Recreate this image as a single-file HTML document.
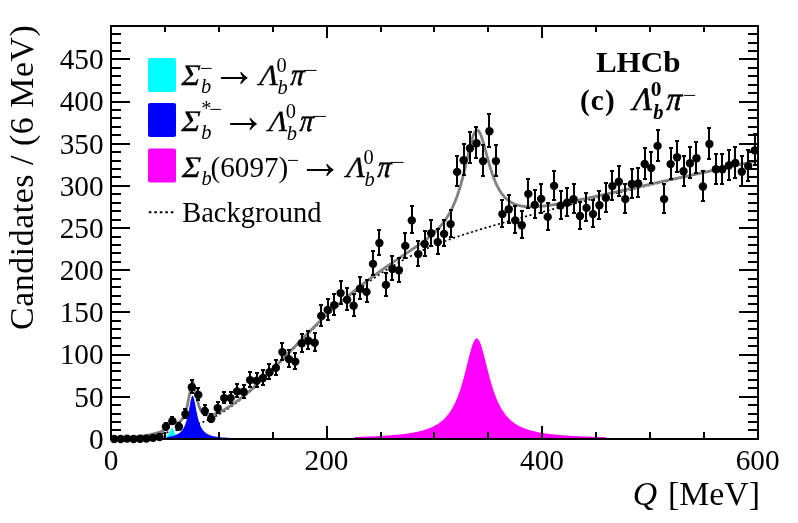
<!DOCTYPE html>
<html><head><meta charset="utf-8"><title>LHCb Q spectrum</title>
<style>
html,body{margin:0;padding:0;background:#fff;}
svg{display:block;font-family:"Liberation Serif",serif;fill:#000;}
.lab{font-size:29.3px;}
.ttl{font-size:35.0px;}
.it{font-style:italic;}
</style></head><body>
<svg width="798" height="523" viewBox="0 0 798 523">
<rect width="798" height="523" fill="#fff"/>
<!-- background fit component -->
<path d="M143.3,436.7 L143.8,436.6 L144.4,436.5 L144.9,436.5 L145.5,436.4 L146.0,436.3 L146.5,436.2 L147.1,436.2 L147.6,436.1 L148.2,436.0 L148.7,435.9 L149.2,435.8 L149.8,435.7 L150.3,435.7 L150.8,435.6 L151.4,435.5 L151.9,435.4 L152.5,435.3 L153.0,435.2 L153.5,435.1 L154.1,435.0 L154.6,434.9 L155.2,434.8 L155.7,434.7 L156.2,434.6 L156.8,434.5 L157.3,434.4 L157.9,434.3 L158.4,434.2 L158.9,434.1 L159.5,434.0 L160.0,433.9 L160.6,433.8 L161.1,433.7 L161.6,433.6 L162.2,433.5 L162.7,433.4 L163.2,433.3 L163.8,433.1 L164.3,433.0 L164.9,432.9 L165.4,432.8 L165.9,432.7 L166.5,432.6 L167.0,432.4 L167.6,432.3 L168.1,432.2 L168.6,432.1 L169.2,432.0 L169.7,431.8 L170.3,431.7 L170.8,431.6 L171.3,431.5 L171.9,431.3 L172.4,431.2 L173.0,431.1 L173.5,431.0 L174.0,430.8 L174.6,430.7 L175.1,430.6 L175.6,430.4 L176.2,430.3 L176.7,430.2 L177.3,430.0 L177.8,429.9 L178.3,429.8 L178.9,429.6 L179.4,429.5 L180.0,429.4 L180.5,429.2 L181.0,429.1 L181.6,428.9 L182.1,428.8 L182.7,428.7 L183.2,428.5 L183.7,428.4 L184.3,428.2 L184.8,428.1 L185.4,427.9 L185.9,427.8 L186.4,427.6 L187.0,427.5 L187.5,427.3 L188.0,427.1 L188.6,427.0 L189.1,426.8 L189.7,426.7 L190.2,426.5 L190.7,426.3 L191.3,426.2 L191.8,426.0 L192.4,425.8 L192.9,425.6 L193.4,425.5 L194.0,425.3 L194.5,425.1 L195.1,424.9 L195.6,424.8 L196.1,424.6 L196.7,424.4 L197.2,424.2 L197.8,424.0 L198.3,423.8 L198.8,423.6 L199.4,423.4 L199.9,423.2 L200.4,423.0 L201.0,422.8 L201.5,422.6 L202.1,422.4 L202.6,422.2 L203.1,422.0 L203.7,421.7 L204.2,421.5 L204.8,421.3 L205.3,421.1 L205.8,420.8 L206.4,420.6 L206.9,420.4 L207.5,420.1 L208.0,419.9 L208.5,419.7 L209.1,419.4 L209.6,419.2 L210.2,418.9 L210.7,418.7 L211.2,418.4 L211.8,418.2 L212.3,417.9 L212.8,417.6 L213.4,417.4 L213.9,417.1 L214.5,416.8 L215.0,416.5 L215.5,416.2 L216.1,416.0 L216.6,415.7 L217.2,415.4 L217.7,415.1 L218.2,414.8 L218.8,414.5 L219.3,414.2 L219.9,413.9 L220.4,413.6 L220.9,413.2 L221.5,412.9 L222.0,412.6 L222.6,412.3 L223.1,411.9 L223.6,411.6 L224.2,411.3 L224.7,410.9 L225.2,410.6 L225.8,410.2 L226.3,409.9 L226.9,409.5 L227.4,409.2 L227.9,408.8 L228.5,408.4 L229.0,408.1 L229.6,407.7 L230.1,407.3 L230.6,406.9 L231.2,406.6 L231.7,406.2 L232.3,405.8 L232.8,405.4 L233.3,405.0 L233.9,404.6 L234.4,404.2 L235.0,403.8 L235.5,403.4 L236.0,403.0 L236.6,402.6 L237.1,402.2 L237.7,401.7 L238.2,401.3 L238.7,400.9 L239.3,400.5 L239.8,400.0 L240.3,399.6 L240.9,399.2 L241.4,398.7 L242.0,398.3 L242.5,397.9 L243.0,397.4 L243.6,397.0 L244.1,396.5 L244.7,396.1 L245.2,395.6 L245.7,395.2 L246.3,394.7 L246.8,394.2 L247.4,393.8 L247.9,393.3 L248.4,392.9 L249.0,392.4 L249.5,391.9 L250.1,391.4 L250.6,391.0 L251.1,390.5 L251.7,390.0 L252.2,389.5 L252.7,389.0 L253.3,388.5 L253.8,388.1 L254.4,387.6 L254.9,387.1 L255.4,386.6 L256.0,386.1 L256.5,385.6 L257.1,385.1 L257.6,384.6 L258.1,384.1 L258.7,383.6 L259.2,383.1 L259.8,382.6 L260.3,382.1 L260.8,381.5 L261.4,381.0 L261.9,380.5 L262.5,380.0 L263.0,379.5 L263.5,379.0 L264.1,378.4 L264.6,377.9 L265.1,377.4 L265.7,376.9 L266.2,376.4 L266.8,375.8 L267.3,375.3 L267.8,374.8 L268.4,374.2 L268.9,373.7 L269.5,373.2 L270.0,372.6 L270.5,372.1 L271.1,371.6 L271.6,371.0 L272.2,370.5 L272.7,370.0 L273.2,369.4 L273.8,368.9 L274.3,368.3 L274.9,367.8 L275.4,367.3 L275.9,366.7 L276.5,366.2 L277.0,365.6 L277.5,365.1 L278.1,364.5 L278.6,364.0 L279.2,363.4 L279.7,362.9 L280.2,362.3 L280.8,361.8 L281.3,361.2 L281.9,360.7 L282.4,360.1 L282.9,359.6 L283.5,359.0 L284.0,358.5 L284.6,357.9 L285.1,357.4 L285.6,356.8 L286.2,356.3 L286.7,355.7 L287.3,355.2 L287.8,354.6 L288.3,354.1 L288.9,353.5 L289.4,352.9 L289.9,352.4 L290.5,351.8 L291.0,351.3 L291.6,350.7 L292.1,350.2 L292.6,349.6 L293.2,349.1 L293.7,348.5 L294.3,348.0 L294.8,347.4 L295.3,346.9 L295.9,346.3 L296.4,345.8 L297.0,345.2 L297.5,344.7 L298.0,344.1 L298.6,343.5 L299.1,343.0 L299.7,342.4 L300.2,341.9 L300.7,341.4 L301.3,340.8 L301.8,340.3 L302.3,339.7 L302.9,339.2 L303.4,338.6 L304.0,338.1 L304.5,337.5 L305.0,337.0 L305.6,336.4 L306.1,335.9 L306.7,335.4 L307.2,334.8 L307.7,334.3 L308.3,333.7 L308.8,333.2 L309.4,332.7 L309.9,332.1 L310.4,331.6 L311.0,331.1 L311.5,330.5 L312.1,330.0 L312.6,329.5 L313.1,328.9 L313.7,328.4 L314.2,327.9 L314.7,327.4 L315.3,326.8 L315.8,326.3 L316.4,325.8 L316.9,325.3 L317.4,324.8 L318.0,324.2 L318.5,323.7 L319.1,323.2 L319.6,322.7 L320.1,322.2 L320.7,321.7 L321.2,321.2 L321.8,320.7 L322.3,320.2 L322.8,319.7 L323.4,319.2 L323.9,318.7 L324.5,318.2 L325.0,317.7 L325.5,317.2 L326.1,316.7 L326.6,316.2 L327.1,315.7 L327.7,315.2 L328.2,314.7 L328.8,314.2 L329.3,313.7 L329.8,313.2 L330.4,312.7 L330.9,312.3 L331.5,311.8 L332.0,311.3 L332.5,310.8 L333.1,310.3 L333.6,309.9 L334.2,309.4 L334.7,308.9 L335.2,308.4 L335.8,308.0 L336.3,307.5 L336.9,307.0 L337.4,306.6 L337.9,306.1 L338.5,305.6 L339.0,305.2 L339.5,304.7 L340.1,304.2 L340.6,303.8 L341.2,303.3 L341.7,302.9 L342.2,302.4 L342.8,302.0 L343.3,301.5 L343.9,301.1 L344.4,300.6 L344.9,300.2 L345.5,299.7 L346.0,299.3 L346.6,298.8 L347.1,298.4 L347.6,297.9 L348.2,297.5 L348.7,297.1 L349.3,296.6 L349.8,296.2 L350.3,295.8 L350.9,295.3 L351.4,294.9 L352.0,294.5 L352.5,294.0 L353.0,293.6 L353.6,293.2 L354.1,292.8 L354.6,292.3 L355.2,291.9 L355.7,291.5 L356.3,291.1 L356.8,290.7 L357.3,290.2 L357.9,289.8 L358.4,289.4 L359.0,289.0 L359.5,288.6 L360.0,288.2 L360.6,287.8 L361.1,287.4 L361.7,287.0 L362.2,286.6 L362.7,286.2 L363.3,285.8 L363.8,285.4 L364.4,285.0 L364.9,284.6 L365.4,284.2 L366.0,283.8 L366.5,283.4 L367.0,283.0 L367.6,282.6 L368.1,282.2 L368.7,281.8 L369.2,281.5 L369.7,281.1 L370.3,280.7 L370.8,280.3 L371.4,279.9 L371.9,279.5 L372.4,279.2 L373.0,278.8 L373.5,278.4 L374.1,278.1 L374.6,277.7 L375.1,277.3 L375.7,276.9 L376.2,276.6 L376.8,276.2 L377.3,275.8 L377.8,275.5 L378.4,275.1 L378.9,274.8 L379.4,274.4 L380.0,274.0 L380.5,273.7 L381.1,273.3 L381.6,273.0 L382.1,272.6 L382.7,272.3 L383.2,271.9 L383.8,271.6 L384.3,271.2 L384.8,270.9 L385.4,270.6 L385.9,270.2 L386.5,269.9 L387.0,269.5 L387.5,269.2 L388.1,268.9 L388.6,268.5 L389.2,268.2 L389.7,267.9 L390.2,267.5 L390.8,267.2 L391.3,266.9 L391.8,266.6 L392.4,266.2 L392.9,265.9 L393.5,265.6 L394.0,265.3 L394.5,265.0 L395.1,264.6 L395.6,264.3 L396.2,264.0 L396.7,263.7 L397.2,263.4 L397.8,263.1 L398.3,262.8 L398.9,262.5 L399.4,262.2 L399.9,261.8 L400.5,261.5 L401.0,261.2 L401.6,260.9 L402.1,260.6 L402.6,260.3 L403.2,260.1 L403.7,259.8 L404.2,259.5 L404.8,259.2 L405.3,258.9 L405.9,258.6 L406.4,258.3 L406.9,258.0 L407.5,257.7 L408.0,257.5 L408.6,257.2 L409.1,256.9 L409.6,256.6 L410.2,256.3 L410.7,256.1 L411.3,255.8 L411.8,255.5 L412.3,255.2 L412.9,255.0 L413.4,254.7 L414.0,254.4 L414.5,254.2 L415.0,253.9 L415.6,253.6 L416.1,253.4 L416.6,253.1 L417.2,252.9 L417.7,252.6 L418.3,252.4 L418.8,252.1 L419.3,251.8 L419.9,251.6 L420.4,251.3 L421.0,251.1 L421.5,250.8 L422.0,250.6 L422.6,250.3 L423.1,250.1 L423.7,249.9 L424.2,249.6 L424.7,249.4 L425.3,249.1 L425.8,248.9 L426.4,248.7 L426.9,248.4 L427.4,248.2 L428.0,248.0 L428.5,247.7 L429.0,247.5 L429.6,247.3 L430.1,247.0 L430.7,246.8 L431.2,246.6 L431.7,246.3 L432.3,246.1 L432.8,245.9 L433.4,245.7 L433.9,245.4 L434.4,245.2 L435.0,245.0 L435.5,244.8 L436.1,244.6 L436.6,244.4 L437.1,244.1 L437.7,243.9 L438.2,243.7 L438.8,243.5 L439.3,243.3 L439.8,243.1 L440.4,242.9 L440.9,242.7 L441.4,242.4 L442.0,242.2 L442.5,242.0 L443.1,241.8 L443.6,241.6 L444.1,241.4 L444.7,241.2 L445.2,241.0 L445.8,240.8 L446.3,240.6 L446.8,240.4 L447.4,240.2 L447.9,240.0 L448.5,239.8 L449.0,239.6 L449.5,239.4 L450.1,239.2 L450.6,239.0 L451.2,238.9 L451.7,238.7 L452.2,238.5 L452.8,238.3 L453.3,238.1 L453.8,237.9 L454.4,237.7 L454.9,237.5 L455.5,237.3 L456.0,237.2 L456.5,237.0 L457.1,236.8 L457.6,236.6 L458.2,236.4 L458.7,236.2 L459.2,236.1 L459.8,235.9 L460.3,235.7 L460.9,235.5 L461.4,235.3 L461.9,235.2 L462.5,235.0 L463.0,234.8 L463.6,234.6 L464.1,234.5 L464.6,234.3 L465.2,234.1 L465.7,233.9 L466.2,233.8 L466.8,233.6 L467.3,233.4 L467.9,233.2 L468.4,233.1 L468.9,232.9 L469.5,232.7 L470.0,232.6 L470.6,232.4 L471.1,232.2 L471.6,232.1 L472.2,231.9 L472.7,231.7 L473.3,231.5 L473.8,231.4 L474.3,231.2 L474.9,231.1 L475.4,230.9 L476.0,230.7 L476.5,230.6 L477.0,230.4 L477.6,230.2 L478.1,230.1 L478.7,229.9 L479.2,229.7 L479.7,229.6 L480.3,229.4 L480.8,229.3 L481.3,229.1 L481.9,228.9 L482.4,228.8 L483.0,228.6 L483.5,228.5 L484.0,228.3 L484.6,228.1 L485.1,228.0 L485.7,227.8 L486.2,227.7 L486.7,227.5 L487.3,227.3 L487.8,227.2 L488.4,227.0 L488.9,226.9 L489.4,226.7 L490.0,226.6 L490.5,226.4 L491.1,226.2 L491.6,226.1 L492.1,225.9 L492.7,225.8 L493.2,225.6 L493.7,225.5 L494.3,225.3 L494.8,225.1 L495.4,225.0 L495.9,224.8 L496.4,224.7 L497.0,224.5 L497.5,224.4 L498.1,224.2 L498.6,224.1 L499.1,223.9 L499.7,223.7 L500.2,223.6 L500.8,223.4 L501.3,223.3 L501.8,223.1 L502.4,223.0 L502.9,222.8 L503.5,222.7 L504.0,222.5 L504.5,222.4 L505.1,222.2 L505.6,222.1 L506.1,221.9 L506.7,221.8 L507.2,221.6 L507.8,221.4 L508.3,221.3 L508.8,221.1 L509.4,221.0 L509.9,220.8 L510.5,220.7 L511.0,220.5 L511.5,220.4 L512.1,220.2 L512.6,220.1 L513.2,219.9 L513.7,219.8 L514.2,219.6 L514.8,219.5 L515.3,219.3 L515.9,219.2 L516.4,219.0 L516.9,218.9 L517.5,218.7 L518.0,218.6 L518.5,218.4 L519.1,218.3 L519.6,218.1 L520.2,218.0 L520.7,217.8 L521.2,217.7 L521.8,217.5 L522.3,217.4 L522.9,217.2 L523.4,217.1 L523.9,216.9 L524.5,216.8 L525.0,216.6 L525.6,216.5 L526.1,216.3 L526.6,216.2 L527.2,216.0 L527.7,215.9 L528.3,215.7 L528.8,215.6 L529.3,215.5 L529.9,215.3 L530.4,215.2 L530.9,215.0 L531.5,214.9 L532.0,214.7 L532.6,214.6 L533.1,214.4 L533.6,214.3 L534.2,214.1 L534.7,214.0 L535.3,213.8 L535.8,213.7 L536.3,213.5 L536.9,213.4 L537.4,213.3 L538.0,213.1 L538.5,213.0 L539.0,212.8 L539.6,212.7 L540.1,212.5 L540.7,212.4 L541.2,212.2 L541.7,212.1 L542.3,212.0 L542.8,211.8 L543.3,211.7 L543.9,211.5 L544.4,211.4 L545.0,211.2 L545.5,211.1 L546.0,210.9 L546.6,210.8 L547.1,210.7 L547.7,210.5 L548.2,210.4 L548.7,210.2 L549.3,210.1 L549.8,209.9 L550.4,209.8 L550.9,209.7 L551.4,209.5 L552.0,209.4 L552.5,209.2 L553.1,209.1 L553.6,208.9 L554.1,208.8 L554.7,208.7 L555.2,208.5 L555.7,208.4 L556.3,208.2 L556.8,208.1 L557.4,208.0 L557.9,207.8 L558.4,207.7 L559.0,207.5 L559.5,207.4 L560.1,207.3 L560.6,207.1 L561.1,207.0 L561.7,206.8 L562.2,206.7 L562.8,206.5 L563.3,206.4 L563.8,206.3 L564.4,206.1 L564.9,206.0 L565.5,205.8 L566.0,205.7 L566.5,205.6 L567.1,205.4 L567.6,205.3 L568.1,205.2 L568.7,205.0 L569.2,204.9 L569.8,204.7 L570.3,204.6 L570.8,204.5 L571.4,204.3 L571.9,204.2 L572.5,204.0 L573.0,203.9 L573.5,203.8 L574.1,203.6 L574.6,203.5 L575.2,203.4 L575.7,203.2 L576.2,203.1 L576.8,202.9 L577.3,202.8 L577.9,202.7 L578.4,202.5 L578.9,202.4 L579.5,202.3 L580.0,202.1 L580.5,202.0 L581.1,201.8 L581.6,201.7 L582.2,201.6 L582.7,201.4 L583.2,201.3 L583.8,201.2 L584.3,201.0 L584.9,200.9 L585.4,200.8 L585.9,200.6 L586.5,200.5 L587.0,200.4 L587.6,200.2 L588.1,200.1 L588.6,199.9 L589.2,199.8 L589.7,199.7 L590.3,199.5 L590.8,199.4 L591.3,199.3 L591.9,199.1 L592.4,199.0 L593.0,198.9 L593.5,198.7 L594.0,198.6 L594.6,198.5 L595.1,198.3 L595.6,198.2 L596.2,198.1 L596.7,197.9 L597.3,197.8 L597.8,197.7 L598.3,197.5 L598.9,197.4 L599.4,197.3 L600.0,197.1 L600.5,197.0 L601.0,196.9 L601.6,196.7 L602.1,196.6 L602.7,196.5 L603.2,196.3 L603.7,196.2 L604.3,196.1 L604.8,195.9 L605.4,195.8 L605.9,195.7 L606.4,195.5 L607.0,195.4 L607.5,195.3 L608.0,195.1 L608.6,195.0 L609.1,194.9 L609.7,194.7 L610.2,194.6 L610.7,194.5 L611.3,194.4 L611.8,194.2 L612.4,194.1 L612.9,194.0 L613.4,193.8 L614.0,193.7 L614.5,193.6 L615.1,193.4 L615.6,193.3 L616.1,193.2 L616.7,193.0 L617.2,192.9 L617.8,192.8 L618.3,192.7 L618.8,192.5 L619.4,192.4 L619.9,192.3 L620.4,192.1 L621.0,192.0 L621.5,191.9 L622.1,191.7 L622.6,191.6 L623.1,191.5 L623.7,191.4 L624.2,191.2 L624.8,191.1 L625.3,191.0 L625.8,190.8 L626.4,190.7 L626.9,190.6 L627.5,190.4 L628.0,190.3 L628.5,190.2 L629.1,190.1 L629.6,189.9 L630.2,189.8 L630.7,189.7 L631.2,189.5 L631.8,189.4 L632.3,189.3 L632.8,189.2 L633.4,189.0 L633.9,188.9 L634.5,188.8 L635.0,188.7 L635.5,188.5 L636.1,188.4 L636.6,188.3 L637.2,188.1 L637.7,188.0 L638.2,187.9 L638.8,187.8 L639.3,187.6 L639.9,187.5 L640.4,187.4 L640.9,187.3 L641.5,187.1 L642.0,187.0 L642.6,186.9 L643.1,186.7 L643.6,186.6 L644.2,186.5 L644.7,186.4 L645.2,186.2 L645.8,186.1 L646.3,186.0 L646.9,185.9 L647.4,185.7 L647.9,185.6 L648.5,185.5 L649.0,185.4 L649.6,185.2 L650.1,185.1 L650.6,185.0 L651.2,184.9 L651.7,184.7 L652.3,184.6 L652.8,184.5 L653.3,184.4 L653.9,184.2 L654.4,184.1 L655.0,184.0 L655.5,183.9 L656.0,183.7 L656.6,183.6 L657.1,183.5 L657.6,183.4 L658.2,183.2 L658.7,183.1 L659.3,183.0 L659.8,182.9 L660.3,182.7 L660.9,182.6 L661.4,182.5 L662.0,182.4 L662.5,182.2 L663.0,182.1 L663.6,182.0 L664.1,181.9 L664.7,181.7 L665.2,181.6 L665.7,181.5 L666.3,181.4 L666.8,181.2 L667.4,181.1 L667.9,181.0 L668.4,180.9 L669.0,180.8 L669.5,180.6 L670.0,180.5 L670.6,180.4 L671.1,180.3 L671.7,180.1 L672.2,180.0 L672.7,179.9 L673.3,179.8 L673.8,179.6 L674.4,179.5 L674.9,179.4 L675.4,179.3 L676.0,179.2 L676.5,179.0 L677.1,178.9 L677.6,178.8 L678.1,178.7 L678.7,178.5 L679.2,178.4 L679.8,178.3 L680.3,178.2 L680.8,178.1 L681.4,177.9 L681.9,177.8 L682.4,177.7 L683.0,177.6 L683.5,177.4 L684.1,177.3 L684.6,177.2 L685.1,177.1 L685.7,177.0 L686.2,176.8 L686.8,176.7 L687.3,176.6 L687.8,176.5 L688.4,176.3 L688.9,176.2 L689.5,176.1 L690.0,176.0 L690.5,175.9 L691.1,175.7 L691.6,175.6 L692.2,175.5 L692.7,175.4 L693.2,175.3 L693.8,175.1 L694.3,175.0 L694.8,174.9 L695.4,174.8 L695.9,174.7 L696.5,174.5 L697.0,174.4 L697.5,174.3 L698.1,174.2 L698.6,174.1 L699.2,173.9 L699.7,173.8 L700.2,173.7 L700.8,173.6 L701.3,173.4 L701.9,173.3 L702.4,173.2 L702.9,173.1 L703.5,173.0 L704.0,172.8 L704.6,172.7 L705.1,172.6 L705.6,172.5 L706.2,172.4 L706.7,172.3 L707.2,172.1 L707.8,172.0 L708.3,171.9 L708.9,171.8 L709.4,171.7 L709.9,171.5 L710.5,171.4 L711.0,171.3 L711.6,171.2 L712.1,171.1 L712.6,170.9 L713.2,170.8 L713.7,170.7 L714.3,170.6 L714.8,170.5 L715.3,170.3 L715.9,170.2 L716.4,170.1 L717.0,170.0 L717.5,169.9 L718.0,169.7 L718.6,169.6 L719.1,169.5 L719.7,169.4 L720.2,169.3 L720.7,169.2 L721.3,169.0 L721.8,168.9 L722.3,168.8 L722.9,168.7 L723.4,168.6 L724.0,168.4 L724.5,168.3 L725.0,168.2 L725.6,168.1 L726.1,168.0 L726.7,167.9 L727.2,167.7 L727.7,167.6 L728.3,167.5 L728.8,167.4 L729.4,167.3 L729.9,167.1 L730.4,167.0 L731.0,166.9 L731.5,166.8 L732.1,166.7 L732.6,166.6 L733.1,166.4 L733.7,166.3 L734.2,166.2 L734.7,166.1 L735.3,166.0 L735.8,165.8 L736.4,165.7 L736.9,165.6 L737.4,165.5 L738.0,165.4 L738.5,165.3 L739.1,165.1 L739.6,165.0 L740.1,164.9 L740.7,164.8 L741.2,164.7 L741.8,164.6 L742.3,164.4 L742.8,164.3 L743.4,164.2 L743.9,164.1 L744.5,164.0 L745.0,163.9 L745.5,163.7 L746.1,163.6 L746.6,163.5 L747.1,163.4 L747.7,163.3 L748.2,163.1 L748.8,163.0 L749.3,162.9 L749.8,162.8 L750.4,162.7 L750.9,162.6 L751.5,162.4 L752.0,162.3 L752.5,162.2 L753.1,162.1 L753.6,162.0 L754.2,161.9 L754.7,161.7 L755.2,161.6 L755.8,161.5 L756.3,161.4 L756.9,161.3 L757.4,161.2 L757.9,161.0" fill="none" stroke="#000" stroke-width="1.7" stroke-dasharray="2.1 2.6"/>
<!-- filled signal shapes -->
<path d="M165.5,436.8 L166.1,436.6 L166.6,436.2 L167.1,435.8 L167.7,435.2 L168.2,434.6 L168.8,433.8 L169.3,432.8 L169.9,431.6 L170.4,430.4 L170.9,429.2 L171.5,428.3 L172.0,428.0 L172.6,428.4 L173.1,429.4 L173.7,430.6 L174.2,431.9 L174.8,433.0 L175.3,433.9 L175.8,434.7 L176.4,435.4 L176.9,435.9 L177.5,436.3 L178.0,436.6 L178.6,436.9 L179.1,437.1 L179.6,437.3 L180.2,437.5 L180.7,437.6 L181.3,437.7 L181.8,437.8 L182.4,437.9 L182.9,438.0 L183.4,438.0 L184.0,438.1 L184.5,438.1 L185.1,438.2 L185.6,438.2 L186.2,438.3 L186.7,438.3 L187.3,438.3 L187.8,438.3 L188.3,438.4 L188.9,438.4 L189.4,438.4 L190.0,438.4 L190.5,438.4 L191.1,438.4 L191.6,438.5 L192.1,438.5 L192.7,438.5 L193.2,438.5 L193.8,438.5 L194.3,438.5 L194.9,438.5 L195.4,438.5 L196.0,438.5 L196.5,438.5 L197.0,438.6 L197.6,438.6 L198.1,438.6 L198.7,438.6 L199.2,438.6 L199.8,438.6 L200.3,438.6 L200.8,438.6 L201.4,438.6 L201.9,438.6 L202.5,438.6 L203.0,438.6 L203.6,438.6 L204.1,438.6 L204.6,438.6 L205.2,438.6 L205.7,438.6 L206.3,438.6 L206.8,438.6 L207.4,438.6 L207.9,438.6 L208.5,438.6 L209.0,438.6 L209.5,438.6 L210.1,438.6 L210.6,438.6 L211.2,438.6 L211.7,438.6 L212.3,438.6 L212.8,438.6 L213.3,438.6 L213.9,438.6 L214.4,438.6 L215.0,438.6 L215.5,438.7 L216.1,438.7 L216.6,438.7 L217.1,438.7 L217.7,438.7 L218.2,438.7 L218.8,438.7 L218.8,438.7 L165.5,438.7 Z" fill="#00ffff"/>
<path d="M167.0,437.0 L167.6,436.9 L168.1,436.9 L168.6,436.8 L169.2,436.7 L169.7,436.6 L170.3,436.5 L170.8,436.4 L171.3,436.3 L171.9,436.2 L172.4,436.0 L173.0,435.9 L173.5,435.8 L174.0,435.6 L174.6,435.4 L175.1,435.2 L175.6,435.0 L176.2,434.8 L176.7,434.6 L177.3,434.3 L177.8,434.0 L178.3,433.7 L178.9,433.3 L179.4,432.9 L180.0,432.5 L180.5,432.0 L181.0,431.5 L181.6,430.9 L182.1,430.2 L182.7,429.5 L183.2,428.7 L183.7,427.7 L184.3,426.7 L184.8,425.5 L185.4,424.1 L185.9,422.6 L186.4,420.9 L187.0,418.9 L187.5,416.7 L188.0,414.3 L188.6,411.7 L189.1,408.9 L189.7,406.0 L190.2,403.2 L190.7,400.5 L191.3,398.2 L191.8,396.6 L192.4,395.8 L192.9,395.9 L193.4,396.9 L194.0,398.6 L194.5,401.0 L195.1,403.7 L195.6,406.6 L196.1,409.5 L196.7,412.3 L197.2,414.8 L197.8,417.2 L198.3,419.3 L198.8,421.2 L199.4,422.9 L199.9,424.4 L200.4,425.7 L201.0,426.9 L201.5,427.9 L202.1,428.8 L202.6,429.7 L203.1,430.4 L203.7,431.0 L204.2,431.6 L204.8,432.1 L205.3,432.6 L205.8,433.0 L206.4,433.4 L206.9,433.7 L207.5,434.1 L208.0,434.3 L208.5,434.6 L209.1,434.8 L209.6,435.1 L210.2,435.3 L210.7,435.5 L211.2,435.6 L211.8,435.8 L212.3,435.9 L212.8,436.1 L213.4,436.2 L213.9,436.3 L214.5,436.4 L215.0,436.5 L215.5,436.6 L216.1,436.7 L216.6,436.8 L217.2,436.9 L217.7,436.9 L218.2,437.0 L218.8,437.1 L219.3,437.1 L219.9,437.2 L220.4,437.3 L220.9,437.3 L221.5,437.4 L222.0,437.4 L222.6,437.5 L223.1,437.5 L223.6,437.5 L224.2,437.6 L224.7,437.6 L225.2,437.6 L225.8,437.7 L226.3,437.7 L226.9,437.7 L227.4,437.8 L227.9,437.8 L228.5,437.8 L229.0,437.8 L229.6,437.9 L230.1,437.9 L230.6,437.9 L230.6,438.7 L167.0,438.7 Z" fill="#0000ff"/>
<path d="M354.6,437.0 L355.2,437.0 L355.7,436.9 L356.3,436.9 L356.8,436.9 L357.3,436.9 L357.9,436.9 L358.4,436.9 L359.0,436.8 L359.5,436.8 L360.0,436.8 L360.6,436.8 L361.1,436.8 L361.7,436.8 L362.2,436.7 L362.7,436.7 L363.3,436.7 L363.8,436.7 L364.4,436.7 L364.9,436.6 L365.4,436.6 L366.0,436.6 L366.5,436.6 L367.0,436.6 L367.6,436.5 L368.1,436.5 L368.7,436.5 L369.2,436.5 L369.7,436.5 L370.3,436.4 L370.8,436.4 L371.4,436.4 L371.9,436.4 L372.4,436.3 L373.0,436.3 L373.5,436.3 L374.1,436.3 L374.6,436.2 L375.1,436.2 L375.7,436.2 L376.2,436.2 L376.8,436.1 L377.3,436.1 L377.8,436.1 L378.4,436.1 L378.9,436.0 L379.4,436.0 L380.0,436.0 L380.5,435.9 L381.1,435.9 L381.6,435.9 L382.1,435.9 L382.7,435.8 L383.2,435.8 L383.8,435.8 L384.3,435.7 L384.8,435.7 L385.4,435.7 L385.9,435.6 L386.5,435.6 L387.0,435.5 L387.5,435.5 L388.1,435.5 L388.6,435.4 L389.2,435.4 L389.7,435.4 L390.2,435.3 L390.8,435.3 L391.3,435.2 L391.8,435.2 L392.4,435.1 L392.9,435.1 L393.5,435.1 L394.0,435.0 L394.5,435.0 L395.1,434.9 L395.6,434.9 L396.2,434.8 L396.7,434.8 L397.2,434.7 L397.8,434.7 L398.3,434.6 L398.9,434.6 L399.4,434.5 L399.9,434.4 L400.5,434.4 L401.0,434.3 L401.6,434.3 L402.1,434.2 L402.6,434.1 L403.2,434.1 L403.7,434.0 L404.2,433.9 L404.8,433.9 L405.3,433.8 L405.9,433.7 L406.4,433.7 L406.9,433.6 L407.5,433.5 L408.0,433.4 L408.6,433.4 L409.1,433.3 L409.6,433.2 L410.2,433.1 L410.7,433.0 L411.3,432.9 L411.8,432.8 L412.3,432.7 L412.9,432.7 L413.4,432.6 L414.0,432.5 L414.5,432.4 L415.0,432.2 L415.6,432.1 L416.1,432.0 L416.6,431.9 L417.2,431.8 L417.7,431.7 L418.3,431.6 L418.8,431.4 L419.3,431.3 L419.9,431.2 L420.4,431.1 L421.0,430.9 L421.5,430.8 L422.0,430.6 L422.6,430.5 L423.1,430.3 L423.7,430.2 L424.2,430.0 L424.7,429.8 L425.3,429.7 L425.8,429.5 L426.4,429.3 L426.9,429.1 L427.4,428.9 L428.0,428.8 L428.5,428.6 L429.0,428.3 L429.6,428.1 L430.1,427.9 L430.7,427.7 L431.2,427.5 L431.7,427.2 L432.3,427.0 L432.8,426.7 L433.4,426.4 L433.9,426.2 L434.4,425.9 L435.0,425.6 L435.5,425.3 L436.1,425.0 L436.6,424.7 L437.1,424.3 L437.7,424.0 L438.2,423.7 L438.8,423.3 L439.3,422.9 L439.8,422.5 L440.4,422.1 L440.9,421.7 L441.4,421.3 L442.0,420.8 L442.5,420.4 L443.1,419.9 L443.6,419.4 L444.1,418.9 L444.7,418.3 L445.2,417.8 L445.8,417.2 L446.3,416.6 L446.8,416.0 L447.4,415.3 L447.9,414.6 L448.5,413.9 L449.0,413.2 L449.5,412.5 L450.1,411.7 L450.6,410.9 L451.2,410.0 L451.7,409.1 L452.2,408.2 L452.8,407.3 L453.3,406.3 L453.8,405.2 L454.4,404.2 L454.9,403.1 L455.5,401.9 L456.0,400.7 L456.5,399.4 L457.1,398.1 L457.6,396.8 L458.2,395.4 L458.7,393.9 L459.2,392.4 L459.8,390.9 L460.3,389.2 L460.9,387.6 L461.4,385.8 L461.9,384.0 L462.5,382.2 L463.0,380.3 L463.6,378.4 L464.1,376.4 L464.6,374.3 L465.2,372.2 L465.7,370.1 L466.2,368.0 L466.8,365.8 L467.3,363.7 L467.9,361.5 L468.4,359.3 L468.9,357.2 L469.5,355.1 L470.0,353.1 L470.6,351.1 L471.1,349.2 L471.6,347.4 L472.2,345.7 L472.7,344.2 L473.3,342.8 L473.8,341.6 L474.3,340.5 L474.9,339.7 L475.4,339.1 L476.0,338.6 L476.5,338.4 L477.0,338.5 L477.6,338.7 L478.1,339.2 L478.7,339.9 L479.2,340.7 L479.7,341.8 L480.3,343.1 L480.8,344.5 L481.3,346.0 L481.9,347.7 L482.4,349.6 L483.0,351.5 L483.5,353.5 L484.0,355.5 L484.6,357.6 L485.1,359.8 L485.7,361.9 L486.2,364.1 L486.7,366.3 L487.3,368.4 L487.8,370.6 L488.4,372.7 L488.9,374.7 L489.4,376.8 L490.0,378.7 L490.5,380.7 L491.1,382.6 L491.6,384.4 L492.1,386.2 L492.7,387.9 L493.2,389.6 L493.7,391.2 L494.3,392.7 L494.8,394.2 L495.4,395.7 L495.9,397.1 L496.4,398.4 L497.0,399.7 L497.5,400.9 L498.1,402.1 L498.6,403.3 L499.1,404.4 L499.7,405.5 L500.2,406.5 L500.8,407.5 L501.3,408.4 L501.8,409.3 L502.4,410.2 L502.9,411.0 L503.5,411.8 L504.0,412.6 L504.5,413.4 L505.1,414.1 L505.6,414.8 L506.1,415.4 L506.7,416.1 L507.2,416.7 L507.8,417.3 L508.3,417.9 L508.8,418.4 L509.4,419.0 L509.9,419.5 L510.5,420.0 L511.0,420.5 L511.5,420.9 L512.1,421.4 L512.6,421.8 L513.2,422.2 L513.7,422.6 L514.2,423.0 L514.8,423.4 L515.3,423.7 L515.9,424.1 L516.4,424.4 L516.9,424.7 L517.5,425.1 L518.0,425.4 L518.5,425.7 L519.1,426.0 L519.6,426.2 L520.2,426.5 L520.7,426.8 L521.2,427.0 L521.8,427.3 L522.3,427.5 L522.9,427.7 L523.4,428.0 L523.9,428.2 L524.5,428.4 L525.0,428.6 L525.6,428.8 L526.1,429.0 L526.6,429.2 L527.2,429.4 L527.7,429.5 L528.3,429.7 L528.8,429.9 L529.3,430.0 L529.9,430.2 L530.4,430.4 L530.9,430.5 L531.5,430.7 L532.0,430.8 L532.6,430.9 L533.1,431.1 L533.6,431.2 L534.2,431.3 L534.7,431.5 L535.3,431.6 L535.8,431.7 L536.3,431.8 L536.9,431.9 L537.4,432.1 L538.0,432.2 L538.5,432.3 L539.0,432.4 L539.6,432.5 L540.1,432.6 L540.7,432.7 L541.2,432.8 L541.7,432.9 L542.3,432.9 L542.8,433.0 L543.3,433.1 L543.9,433.2 L544.4,433.3 L545.0,433.4 L545.5,433.4 L546.0,433.5 L546.6,433.6 L547.1,433.7 L547.7,433.7 L548.2,433.8 L548.7,433.9 L549.3,434.0 L549.8,434.0 L550.4,434.1 L550.9,434.2 L551.4,434.2 L552.0,434.3 L552.5,434.3 L553.1,434.4 L553.6,434.5 L554.1,434.5 L554.7,434.6 L555.2,434.6 L555.7,434.7 L556.3,434.7 L556.8,434.8 L557.4,434.8 L557.9,434.9 L558.4,434.9 L559.0,435.0 L559.5,435.0 L560.1,435.1 L560.6,435.1 L561.1,435.2 L561.7,435.2 L562.2,435.2 L562.8,435.3 L563.3,435.3 L563.8,435.4 L564.4,435.4 L564.9,435.4 L565.5,435.5 L566.0,435.5 L566.5,435.6 L567.1,435.6 L567.6,435.6 L568.1,435.7 L568.7,435.7 L569.2,435.7 L569.8,435.8 L570.3,435.8 L570.8,435.8 L571.4,435.9 L571.9,435.9 L572.5,435.9 L573.0,435.9 L573.5,436.0 L574.1,436.0 L574.6,436.0 L575.2,436.1 L575.7,436.1 L576.2,436.1 L576.8,436.1 L577.3,436.2 L577.9,436.2 L578.4,436.2 L578.9,436.3 L579.5,436.3 L580.0,436.3 L580.5,436.3 L581.1,436.3 L581.6,436.4 L582.2,436.4 L582.7,436.4 L583.2,436.4 L583.8,436.5 L584.3,436.5 L584.9,436.5 L585.4,436.5 L585.9,436.5 L586.5,436.6 L587.0,436.6 L587.6,436.6 L588.1,436.6 L588.6,436.6 L589.2,436.7 L589.7,436.7 L590.3,436.7 L590.8,436.7 L591.3,436.7 L591.9,436.8 L592.4,436.8 L593.0,436.8 L593.5,436.8 L594.0,436.8 L594.6,436.8 L595.1,436.9 L595.6,436.9 L596.2,436.9 L596.7,436.9 L597.3,436.9 L597.8,436.9 L598.3,437.0 L598.9,437.0 L599.4,437.0 L600.0,437.0 L600.5,437.0 L601.0,437.0 L601.6,437.0 L602.1,437.1 L602.7,437.1 L603.2,437.1 L603.7,437.1 L604.3,437.1 L604.8,437.1 L605.4,437.1 L605.9,437.2 L605.9,438.7 L354.6,438.7 Z" fill="#ff00ff"/>
<!-- total fit -->
<path d="M111.0,438.3 L111.5,438.3 L112.0,438.3 L112.6,438.3 L113.1,438.3 L113.6,438.3 L114.2,438.3 L114.7,438.3 L115.3,438.3 L115.8,438.3 L116.3,438.3 L116.9,438.3 L117.4,438.3 L118.0,438.3 L118.5,438.3 L119.0,438.2 L119.6,438.2 L120.1,438.2 L120.7,438.2 L121.2,438.2 L121.7,438.1 L122.3,438.1 L122.8,438.1 L123.4,438.1 L123.9,438.0 L124.4,438.0 L125.0,438.0 L125.5,437.9 L126.0,437.9 L126.6,437.8 L127.1,437.8 L127.7,437.8 L128.2,437.7 L128.7,437.7 L129.3,437.6 L129.8,437.6 L130.4,437.5 L130.9,437.5 L131.4,437.4 L132.0,437.4 L132.5,437.3 L133.1,437.3 L133.6,437.2 L134.1,437.1 L134.7,437.1 L135.2,437.0 L135.8,437.0 L136.3,436.9 L136.8,436.8 L137.4,436.7 L137.9,436.7 L138.4,436.6 L139.0,436.5 L139.5,436.5 L140.1,436.4 L140.6,436.3 L141.1,436.2 L141.7,436.1 L142.2,436.1 L142.8,436.0 L143.3,435.9 L143.8,435.8 L144.4,435.7 L144.9,435.6 L145.5,435.5 L146.0,435.4 L146.5,435.3 L147.1,435.2 L147.6,435.1 L148.2,435.0 L148.7,434.9 L149.2,434.8 L149.8,434.7 L150.3,434.6 L150.8,434.5 L151.4,434.3 L151.9,434.2 L152.5,434.1 L153.0,434.0 L153.5,433.8 L154.1,433.7 L154.6,433.6 L155.2,433.4 L155.7,433.3 L156.2,433.1 L156.8,433.0 L157.3,432.8 L157.9,432.7 L158.4,432.5 L158.9,432.3 L159.5,432.2 L160.0,432.0 L160.6,431.8 L161.1,431.6 L161.6,431.3 L162.2,431.1 L162.7,430.8 L163.2,430.6 L163.8,430.3 L164.3,430.0 L164.9,429.6 L165.4,429.2 L165.9,428.8 L166.5,428.3 L167.0,427.7 L167.6,427.0 L168.1,426.1 L168.6,425.2 L169.2,424.0 L169.7,422.7 L170.3,421.2 L170.8,419.8 L171.3,418.6 L171.9,417.8 L172.4,417.8 L173.0,418.3 L173.5,419.2 L174.0,420.2 L174.6,421.1 L175.1,421.7 L175.6,422.2 L176.2,422.6 L176.7,422.7 L177.3,422.8 L177.8,422.7 L178.3,422.5 L178.9,422.3 L179.4,422.0 L180.0,421.6 L180.5,421.1 L181.0,420.5 L181.6,419.9 L182.1,419.2 L182.7,418.4 L183.2,417.5 L183.7,416.4 L184.3,415.3 L184.8,414.0 L185.4,412.5 L185.9,410.9 L186.4,409.0 L187.0,407.0 L187.5,404.7 L188.0,402.1 L188.6,399.4 L189.1,396.4 L189.7,393.4 L190.2,390.4 L190.7,387.5 L191.3,385.1 L191.8,383.3 L192.4,382.3 L192.9,382.3 L193.4,383.1 L194.0,384.7 L194.5,386.9 L195.1,389.5 L195.6,392.2 L196.1,394.9 L196.7,397.5 L197.2,399.8 L197.8,402.0 L198.3,404.0 L198.8,405.7 L199.4,407.1 L199.9,408.4 L200.4,409.6 L201.0,410.5 L201.5,411.4 L202.1,412.1 L202.6,412.7 L203.1,413.2 L203.7,413.6 L204.2,414.0 L204.8,414.3 L205.3,414.5 L205.8,414.7 L206.4,414.9 L206.9,415.0 L207.5,415.1 L208.0,415.1 L208.5,415.1 L209.1,415.1 L209.6,415.1 L210.2,415.1 L210.7,415.0 L211.2,414.9 L211.8,414.8 L212.3,414.7 L212.8,414.6 L213.4,414.4 L213.9,414.3 L214.5,414.1 L215.0,413.9 L215.5,413.7 L216.1,413.5 L216.6,413.3 L217.2,413.1 L217.7,412.9 L218.2,412.7 L218.8,412.4 L219.3,412.2 L219.9,411.9 L220.4,411.7 L220.9,411.4 L221.5,411.1 L222.0,410.9 L222.6,410.6 L223.1,410.3 L223.6,410.0 L224.2,409.7 L224.7,409.4 L225.2,409.1 L225.8,408.8 L226.3,408.4 L226.9,408.1 L227.4,407.8 L227.9,407.4 L228.5,407.1 L229.0,406.8 L229.6,406.4 L230.1,406.1 L230.6,405.7 L231.2,405.3 L231.7,405.0 L232.3,404.6 L232.8,404.2 L233.3,403.9 L233.9,403.5 L234.4,403.1 L235.0,402.7 L235.5,402.3 L236.0,401.9 L236.6,401.5 L237.1,401.1 L237.7,400.7 L238.2,400.3 L238.7,399.9 L239.3,399.5 L239.8,399.0 L240.3,398.6 L240.9,398.2 L241.4,397.8 L242.0,397.3 L242.5,396.9 L243.0,396.5 L243.6,396.0 L244.1,395.6 L244.7,395.2 L245.2,394.7 L245.7,394.3 L246.3,393.8 L246.8,393.3 L247.4,392.9 L247.9,392.4 L248.4,392.0 L249.0,391.5 L249.5,391.0 L250.1,390.6 L250.6,390.1 L251.1,389.6 L251.7,389.1 L252.2,388.7 L252.7,388.2 L253.3,387.7 L253.8,387.2 L254.4,386.7 L254.9,386.2 L255.4,385.7 L256.0,385.3 L256.5,384.8 L257.1,384.3 L257.6,383.8 L258.1,383.3 L258.7,382.8 L259.2,382.3 L259.8,381.7 L260.3,381.2 L260.8,380.7 L261.4,380.2 L261.9,379.7 L262.5,379.2 L263.0,378.7 L263.5,378.2 L264.1,377.6 L264.6,377.1 L265.1,376.6 L265.7,376.1 L266.2,375.5 L266.8,375.0 L267.3,374.5 L267.8,374.0 L268.4,373.4 L268.9,372.9 L269.5,372.4 L270.0,371.8 L270.5,371.3 L271.1,370.8 L271.6,370.2 L272.2,369.7 L272.7,369.1 L273.2,368.6 L273.8,368.1 L274.3,367.5 L274.9,367.0 L275.4,366.4 L275.9,365.9 L276.5,365.3 L277.0,364.8 L277.5,364.3 L278.1,363.7 L278.6,363.2 L279.2,362.6 L279.7,362.1 L280.2,361.5 L280.8,361.0 L281.3,360.4 L281.9,359.8 L282.4,359.3 L282.9,358.7 L283.5,358.2 L284.0,357.6 L284.6,357.1 L285.1,356.5 L285.6,356.0 L286.2,355.4 L286.7,354.9 L287.3,354.3 L287.8,353.7 L288.3,353.2 L288.9,352.6 L289.4,352.1 L289.9,351.5 L290.5,351.0 L291.0,350.4 L291.6,349.8 L292.1,349.3 L292.6,348.7 L293.2,348.2 L293.7,347.6 L294.3,347.1 L294.8,346.5 L295.3,346.0 L295.9,345.4 L296.4,344.8 L297.0,344.3 L297.5,343.7 L298.0,343.2 L298.6,342.6 L299.1,342.1 L299.7,341.5 L300.2,341.0 L300.7,340.4 L301.3,339.9 L301.8,339.3 L302.3,338.8 L302.9,338.2 L303.4,337.7 L304.0,337.1 L304.5,336.6 L305.0,336.0 L305.6,335.5 L306.1,334.9 L306.7,334.4 L307.2,333.8 L307.7,333.3 L308.3,332.7 L308.8,332.2 L309.4,331.7 L309.9,331.1 L310.4,330.6 L311.0,330.0 L311.5,329.5 L312.1,329.0 L312.6,328.4 L313.1,327.9 L313.7,327.4 L314.2,326.8 L314.7,326.3 L315.3,325.8 L315.8,325.2 L316.4,324.7 L316.9,324.2 L317.4,323.7 L318.0,323.1 L318.5,322.6 L319.1,322.1 L319.6,321.6 L320.1,321.1 L320.7,320.5 L321.2,320.0 L321.8,319.5 L322.3,319.0 L322.8,318.5 L323.4,318.0 L323.9,317.5 L324.5,317.0 L325.0,316.5 L325.5,316.0 L326.1,315.4 L326.6,314.9 L327.1,314.4 L327.7,313.9 L328.2,313.4 L328.8,312.9 L329.3,312.5 L329.8,312.0 L330.4,311.5 L330.9,311.0 L331.5,310.5 L332.0,310.0 L332.5,309.5 L333.1,309.0 L333.6,308.5 L334.2,308.0 L334.7,307.6 L335.2,307.1 L335.8,306.6 L336.3,306.1 L336.9,305.6 L337.4,305.2 L337.9,304.7 L338.5,304.2 L339.0,303.7 L339.5,303.3 L340.1,302.8 L340.6,302.3 L341.2,301.9 L341.7,301.4 L342.2,300.9 L342.8,300.5 L343.3,300.0 L343.9,299.5 L344.4,299.1 L344.9,298.6 L345.5,298.2 L346.0,297.7 L346.6,297.3 L347.1,296.8 L347.6,296.3 L348.2,295.9 L348.7,295.4 L349.3,295.0 L349.8,294.5 L350.3,294.1 L350.9,293.7 L351.4,293.2 L352.0,292.8 L352.5,292.3 L353.0,291.9 L353.6,291.4 L354.1,291.0 L354.6,290.6 L355.2,290.1 L355.7,289.7 L356.3,289.3 L356.8,288.8 L357.3,288.4 L357.9,288.0 L358.4,287.5 L359.0,287.1 L359.5,286.7 L360.0,286.3 L360.6,285.8 L361.1,285.4 L361.7,285.0 L362.2,284.6 L362.7,284.1 L363.3,283.7 L363.8,283.3 L364.4,282.9 L364.9,282.5 L365.4,282.1 L366.0,281.6 L366.5,281.2 L367.0,280.8 L367.6,280.4 L368.1,280.0 L368.7,279.6 L369.2,279.2 L369.7,278.8 L370.3,278.4 L370.8,278.0 L371.4,277.6 L371.9,277.2 L372.4,276.8 L373.0,276.4 L373.5,276.0 L374.1,275.6 L374.6,275.2 L375.1,274.8 L375.7,274.4 L376.2,274.0 L376.8,273.6 L377.3,273.2 L377.8,272.8 L378.4,272.4 L378.9,272.1 L379.4,271.7 L380.0,271.3 L380.5,270.9 L381.1,270.5 L381.6,270.1 L382.1,269.8 L382.7,269.4 L383.2,269.0 L383.8,268.6 L384.3,268.2 L384.8,267.9 L385.4,267.5 L385.9,267.1 L386.5,266.7 L387.0,266.4 L387.5,266.0 L388.1,265.6 L388.6,265.2 L389.2,264.9 L389.7,264.5 L390.2,264.1 L390.8,263.8 L391.3,263.4 L391.8,263.0 L392.4,262.6 L392.9,262.3 L393.5,261.9 L394.0,261.5 L394.5,261.2 L395.1,260.8 L395.6,260.5 L396.2,260.1 L396.7,259.7 L397.2,259.4 L397.8,259.0 L398.3,258.6 L398.9,258.3 L399.4,257.9 L399.9,257.6 L400.5,257.2 L401.0,256.8 L401.6,256.5 L402.1,256.1 L402.6,255.8 L403.2,255.4 L403.7,255.0 L404.2,254.7 L404.8,254.3 L405.3,254.0 L405.9,253.6 L406.4,253.2 L406.9,252.9 L407.5,252.5 L408.0,252.2 L408.6,251.8 L409.1,251.4 L409.6,251.1 L410.2,250.7 L410.7,250.4 L411.3,250.0 L411.8,249.6 L412.3,249.3 L412.9,248.9 L413.4,248.5 L414.0,248.2 L414.5,247.8 L415.0,247.4 L415.6,247.1 L416.1,246.7 L416.6,246.3 L417.2,245.9 L417.7,245.6 L418.3,245.2 L418.8,244.8 L419.3,244.4 L419.9,244.1 L420.4,243.7 L421.0,243.3 L421.5,242.9 L422.0,242.5 L422.6,242.1 L423.1,241.7 L423.7,241.3 L424.2,240.9 L424.7,240.5 L425.3,240.1 L425.8,239.7 L426.4,239.3 L426.9,238.8 L427.4,238.4 L428.0,238.0 L428.5,237.5 L429.0,237.1 L429.6,236.7 L430.1,236.2 L430.7,235.8 L431.2,235.3 L431.7,234.8 L432.3,234.4 L432.8,233.9 L433.4,233.4 L433.9,232.9 L434.4,232.4 L435.0,231.9 L435.5,231.4 L436.1,230.8 L436.6,230.3 L437.1,229.8 L437.7,229.2 L438.2,228.6 L438.8,228.1 L439.3,227.5 L439.8,226.9 L440.4,226.3 L440.9,225.6 L441.4,225.0 L442.0,224.3 L442.5,223.7 L443.1,223.0 L443.6,222.3 L444.1,221.6 L444.7,220.8 L445.2,220.1 L445.8,219.3 L446.3,218.5 L446.8,217.7 L447.4,216.8 L447.9,215.9 L448.5,215.1 L449.0,214.1 L449.5,213.2 L450.1,212.2 L450.6,211.2 L451.2,210.2 L451.7,209.1 L452.2,208.0 L452.8,206.8 L453.3,205.7 L453.8,204.4 L454.4,203.2 L454.9,201.9 L455.5,200.5 L456.0,199.1 L456.5,197.7 L457.1,196.2 L457.6,194.7 L458.2,193.1 L458.7,191.4 L459.2,189.8 L459.8,188.0 L460.3,186.2 L460.9,184.4 L461.4,182.4 L461.9,180.5 L462.5,178.5 L463.0,176.4 L463.6,174.3 L464.1,172.1 L464.6,169.9 L465.2,167.6 L465.7,165.3 L466.2,163.0 L466.8,160.7 L467.3,158.4 L467.9,156.0 L468.4,153.7 L468.9,151.4 L469.5,149.1 L470.0,146.9 L470.6,144.8 L471.1,142.7 L471.6,140.7 L472.2,138.9 L472.7,137.2 L473.3,135.6 L473.8,134.2 L474.3,133.0 L474.9,132.0 L475.4,131.2 L476.0,130.7 L476.5,130.3 L477.0,130.1 L477.6,130.2 L478.1,130.5 L478.7,131.0 L479.2,131.8 L479.7,132.7 L480.3,133.8 L480.8,135.0 L481.3,136.4 L481.9,138.0 L482.4,139.6 L483.0,141.4 L483.5,143.2 L484.0,145.1 L484.6,147.0 L485.1,149.0 L485.7,151.0 L486.2,153.0 L486.7,155.1 L487.3,157.1 L487.8,159.0 L488.4,161.0 L488.9,162.9 L489.4,164.8 L490.0,166.6 L490.5,168.4 L491.1,170.1 L491.6,171.8 L492.1,173.4 L492.7,174.9 L493.2,176.5 L493.7,177.9 L494.3,179.3 L494.8,180.7 L495.4,181.9 L495.9,183.2 L496.4,184.4 L497.0,185.5 L497.5,186.6 L498.1,187.6 L498.6,188.6 L499.1,189.6 L499.7,190.5 L500.2,191.4 L500.8,192.2 L501.3,193.0 L501.8,193.7 L502.4,194.5 L502.9,195.1 L503.5,195.8 L504.0,196.4 L504.5,197.0 L505.1,197.6 L505.6,198.1 L506.1,198.6 L506.7,199.1 L507.2,199.6 L507.8,200.0 L508.3,200.5 L508.8,200.9 L509.4,201.2 L509.9,201.6 L510.5,201.9 L511.0,202.3 L511.5,202.6 L512.1,202.9 L512.6,203.2 L513.2,203.4 L513.7,203.7 L514.2,203.9 L514.8,204.1 L515.3,204.3 L515.9,204.5 L516.4,204.7 L516.9,204.9 L517.5,205.1 L518.0,205.2 L518.5,205.4 L519.1,205.5 L519.6,205.6 L520.2,205.8 L520.7,205.9 L521.2,206.0 L521.8,206.1 L522.3,206.2 L522.9,206.2 L523.4,206.3 L523.9,206.4 L524.5,206.5 L525.0,206.5 L525.6,206.6 L526.1,206.6 L526.6,206.7 L527.2,206.7 L527.7,206.7 L528.3,206.7 L528.8,206.8 L529.3,206.8 L529.9,206.8 L530.4,206.8 L530.9,206.8 L531.5,206.8 L532.0,206.8 L532.6,206.8 L533.1,206.8 L533.6,206.8 L534.2,206.8 L534.7,206.7 L535.3,206.7 L535.8,206.7 L536.3,206.7 L536.9,206.6 L537.4,206.6 L538.0,206.6 L538.5,206.5 L539.0,206.5 L539.6,206.4 L540.1,206.4 L540.7,206.3 L541.2,206.3 L541.7,206.2 L542.3,206.2 L542.8,206.1 L543.3,206.1 L543.9,206.0 L544.4,206.0 L545.0,205.9 L545.5,205.8 L546.0,205.8 L546.6,205.7 L547.1,205.6 L547.7,205.6 L548.2,205.5 L548.7,205.4 L549.3,205.3 L549.8,205.3 L550.4,205.2 L550.9,205.1 L551.4,205.0 L552.0,204.9 L552.5,204.9 L553.1,204.8 L553.6,204.7 L554.1,204.6 L554.7,204.5 L555.2,204.4 L555.7,204.3 L556.3,204.3 L556.8,204.2 L557.4,204.1 L557.9,204.0 L558.4,203.9 L559.0,203.8 L559.5,203.7 L560.1,203.6 L560.6,203.5 L561.1,203.4 L561.7,203.3 L562.2,203.2 L562.8,203.1 L563.3,203.0 L563.8,202.9 L564.4,202.8 L564.9,202.7 L565.5,202.6 L566.0,202.5 L566.5,202.4 L567.1,202.3 L567.6,202.2 L568.1,202.1 L568.7,202.0 L569.2,201.9 L569.8,201.8 L570.3,201.7 L570.8,201.6 L571.4,201.5 L571.9,201.4 L572.5,201.3 L573.0,201.1 L573.5,201.0 L574.1,200.9 L574.6,200.8 L575.2,200.7 L575.7,200.6 L576.2,200.5 L576.8,200.4 L577.3,200.3 L577.9,200.2 L578.4,200.0 L578.9,199.9 L579.5,199.8 L580.0,199.7 L580.5,199.6 L581.1,199.5 L581.6,199.4 L582.2,199.3 L582.7,199.1 L583.2,199.0 L583.8,198.9 L584.3,198.8 L584.9,198.7 L585.4,198.6 L585.9,198.5 L586.5,198.3 L587.0,198.2 L587.6,198.1 L588.1,198.0 L588.6,197.9 L589.2,197.8 L589.7,197.7 L590.3,197.5 L590.8,197.4 L591.3,197.3 L591.9,197.2 L592.4,197.1 L593.0,197.0 L593.5,196.8 L594.0,196.7 L594.6,196.6 L595.1,196.5 L595.6,196.4 L596.2,196.2 L596.7,196.1 L597.3,196.0 L597.8,195.9 L598.3,195.8 L598.9,195.7 L599.4,195.5 L600.0,195.4 L600.5,195.3 L601.0,195.2 L601.6,195.1 L602.1,194.9 L602.7,194.8 L603.2,194.7 L603.7,194.6 L604.3,194.5 L604.8,194.4 L605.4,194.2 L605.9,194.1 L606.4,194.0 L607.0,193.9 L607.5,193.8 L608.0,193.6 L608.6,193.5 L609.1,193.4 L609.7,193.3 L610.2,193.2 L610.7,193.0 L611.3,192.9 L611.8,192.8 L612.4,192.7 L612.9,192.6 L613.4,192.4 L614.0,192.3 L614.5,192.2 L615.1,192.1 L615.6,192.0 L616.1,191.8 L616.7,191.7 L617.2,191.6 L617.8,191.5 L618.3,191.4 L618.8,191.2 L619.4,191.1 L619.9,191.0 L620.4,190.9 L621.0,190.7 L621.5,190.6 L622.1,190.5 L622.6,190.4 L623.1,190.3 L623.7,190.1 L624.2,190.0 L624.8,189.9 L625.3,189.8 L625.8,189.7 L626.4,189.5 L626.9,189.4 L627.5,189.3 L628.0,189.2 L628.5,189.1 L629.1,188.9 L629.6,188.8 L630.2,188.7 L630.7,188.6 L631.2,188.5 L631.8,188.3 L632.3,188.2 L632.8,188.1 L633.4,188.0 L633.9,187.9 L634.5,187.7 L635.0,187.6 L635.5,187.5 L636.1,187.4 L636.6,187.2 L637.2,187.1 L637.7,187.0 L638.2,186.9 L638.8,186.8 L639.3,186.6 L639.9,186.5 L640.4,186.4 L640.9,186.3 L641.5,186.2 L642.0,186.0 L642.6,185.9 L643.1,185.8 L643.6,185.7 L644.2,185.6 L644.7,185.4 L645.2,185.3 L645.8,185.2 L646.3,185.1 L646.9,185.0 L647.4,184.8 L647.9,184.7 L648.5,184.6 L649.0,184.5 L649.6,184.4 L650.1,184.2 L650.6,184.1 L651.2,184.0 L651.7,183.9 L652.3,183.8 L652.8,183.6 L653.3,183.5 L653.9,183.4 L654.4,183.3 L655.0,183.2 L655.5,183.0 L656.0,182.9 L656.6,182.8 L657.1,182.7 L657.6,182.6 L658.2,182.4 L658.7,182.3 L659.3,182.2 L659.8,182.1 L660.3,182.0 L660.9,181.8 L661.4,181.7 L662.0,181.6 L662.5,181.5 L663.0,181.4 L663.6,181.2 L664.1,181.1 L664.7,181.0 L665.2,180.9 L665.7,180.8 L666.3,180.6 L666.8,180.5 L667.4,180.4 L667.9,180.3 L668.4,180.2 L669.0,180.0 L669.5,179.9 L670.0,179.8 L670.6,179.7 L671.1,179.6 L671.7,179.4 L672.2,179.3 L672.7,179.2 L673.3,179.1 L673.8,179.0 L674.4,178.8 L674.9,178.7 L675.4,178.6 L676.0,178.5 L676.5,178.4 L677.1,178.3 L677.6,178.1 L678.1,178.0 L678.7,177.9 L679.2,177.8 L679.8,177.7 L680.3,177.5 L680.8,177.4 L681.4,177.3 L681.9,177.2 L682.4,177.1 L683.0,176.9 L683.5,176.8 L684.1,176.7 L684.6,176.6 L685.1,176.5 L685.7,176.4 L686.2,176.2 L686.8,176.1 L687.3,176.0 L687.8,175.9 L688.4,175.8 L688.9,175.6 L689.5,175.5 L690.0,175.4 L690.5,175.3 L691.1,175.2 L691.6,175.0 L692.2,174.9 L692.7,174.8 L693.2,174.7 L693.8,174.6 L694.3,174.5 L694.8,174.3 L695.4,174.2 L695.9,174.1 L696.5,174.0 L697.0,173.9 L697.5,173.8 L698.1,173.6 L698.6,173.5 L699.2,173.4 L699.7,173.3 L700.2,173.2 L700.8,173.0 L701.3,172.9 L701.9,172.8 L702.4,172.7 L702.9,172.6 L703.5,172.5 L704.0,172.3 L704.6,172.2 L705.1,172.1 L705.6,172.0 L706.2,171.9 L706.7,171.8 L707.2,171.6 L707.8,171.5 L708.3,171.4 L708.9,171.3 L709.4,171.2 L709.9,171.0 L710.5,170.9 L711.0,170.8 L711.6,170.7 L712.1,170.6 L712.6,170.5 L713.2,170.3 L713.7,170.2 L714.3,170.1 L714.8,170.0 L715.3,169.9 L715.9,169.8 L716.4,169.6 L717.0,169.5 L717.5,169.4 L718.0,169.3 L718.6,169.2 L719.1,169.1 L719.7,168.9 L720.2,168.8 L720.7,168.7 L721.3,168.6 L721.8,168.5 L722.3,168.4 L722.9,168.2 L723.4,168.1 L724.0,168.0 L724.5,167.9 L725.0,167.8 L725.6,167.7 L726.1,167.5 L726.7,167.4 L727.2,167.3 L727.7,167.2 L728.3,167.1 L728.8,167.0 L729.4,166.8 L729.9,166.7 L730.4,166.6 L731.0,166.5 L731.5,166.4 L732.1,166.3 L732.6,166.1 L733.1,166.0 L733.7,165.9 L734.2,165.8 L734.7,165.7 L735.3,165.6 L735.8,165.5 L736.4,165.3 L736.9,165.2 L737.4,165.1 L738.0,165.0 L738.5,164.9 L739.1,164.8 L739.6,164.6 L740.1,164.5 L740.7,164.4 L741.2,164.3 L741.8,164.2 L742.3,164.1 L742.8,163.9 L743.4,163.8 L743.9,163.7 L744.5,163.6 L745.0,163.5 L745.5,163.4 L746.1,163.3 L746.6,163.1 L747.1,163.0 L747.7,162.9 L748.2,162.8 L748.8,162.7 L749.3,162.6 L749.8,162.4 L750.4,162.3 L750.9,162.2 L751.5,162.1 L752.0,162.0 L752.5,161.9 L753.1,161.8 L753.6,161.6 L754.2,161.5 L754.7,161.4 L755.2,161.3 L755.8,161.2 L756.3,161.1 L756.9,160.9 L757.4,160.8 L757.9,160.7" fill="none" stroke="#808080" stroke-width="2.8" stroke-linejoin="round"/>
<!-- frame and ticks -->
<path d="M112,439h18 M757,439h-18 M112,430h9 M757,430h-9 M112,422h9 M757,422h-9 M112,414h9 M757,414h-9 M112,405h9 M757,405h-9 M112,397h18 M757,397h-18 M112,388h9 M757,388h-9 M112,380h9 M757,380h-9 M112,371h9 M757,371h-9 M112,363h9 M757,363h-9 M112,355h18 M757,355h-18 M112,346h9 M757,346h-9 M112,338h9 M757,338h-9 M112,329h9 M757,329h-9 M112,321h9 M757,321h-9 M112,312h18 M757,312h-18 M112,304h9 M757,304h-9 M112,296h9 M757,296h-9 M112,287h9 M757,287h-9 M112,279h9 M757,279h-9 M112,270h18 M757,270h-18 M112,262h9 M757,262h-9 M112,253h9 M757,253h-9 M112,245h9 M757,245h-9 M112,237h9 M757,237h-9 M112,228h18 M757,228h-18 M112,220h9 M757,220h-9 M112,211h9 M757,211h-9 M112,203h9 M757,203h-9 M112,194h9 M757,194h-9 M112,186h18 M757,186h-18 M112,177h9 M757,177h-9 M112,169h9 M757,169h-9 M112,161h9 M757,161h-9 M112,152h9 M757,152h-9 M112,144h18 M757,144h-18 M112,135h9 M757,135h-9 M112,127h9 M757,127h-9 M112,118h9 M757,118h-9 M112,110h9 M757,110h-9 M112,102h18 M757,102h-18 M112,93h9 M757,93h-9 M112,85h9 M757,85h-9 M112,76h9 M757,76h-9 M112,68h9 M757,68h-9 M112,59h18 M757,59h-18 M112,51h9 M757,51h-9 M112,43h9 M757,43h-9 M112,34h9 M757,34h-9 M111,439v-13 M111,26v12 M165,439v-7 M165,26v6 M219,439v-7 M219,26v6 M273,439v-7 M273,26v6 M327,439v-13 M327,26v12 M381,439v-7 M381,26v6 M434,439v-7 M434,26v6 M488,439v-7 M488,26v6 M542,439v-13 M542,26v12 M596,439v-7 M596,26v6 M650,439v-7 M650,26v6 M704,439v-7 M704,26v6 M758,439v-13 M758,26v12" stroke="#000" stroke-width="2" fill="none" shape-rendering="crispEdges"/>
<rect x="111" y="26" width="647" height="413" fill="none" stroke="#000" stroke-width="2"/>
<!-- data -->
<path d="M159,435V438 M157,435h4 M157,438h4 M166,423V429 M164,423h4 M164,429h4 M172,417V424 M170,417h4 M170,424h4 M179,423V429 M177,423h4 M177,429h4 M185,409V418 M183,409h4 M183,418h4 M192,380V393 M190,380h4 M190,393h4 M198,388V400 M196,388h4 M196,400h4 M205,405V415 M203,405h4 M203,415h4 M211,414V422 M209,414h4 M209,422h4 M218,402V413 M216,402h4 M216,413h4 M224,392V403 M222,392h4 M222,403h4 M231,392V403 M229,392h4 M229,403h4 M237,384V397 M235,384h4 M235,397h4 M244,385V398 M242,385h4 M242,398h4 M250,372V387 M248,372h4 M248,387h4 M257,373V387 M255,373h4 M255,387h4 M263,370V385 M261,370h4 M261,385h4 M269,364V379 M267,364h4 M267,379h4 M276,360V375 M274,360h4 M274,375h4 M282,343V360 M280,343h4 M280,360h4 M289,350V367 M287,350h4 M287,367h4 M295,353V369 M293,353h4 M293,369h4 M302,334V352 M300,334h4 M300,352h4 M308,331V349 M306,331h4 M306,349h4 M315,333V351 M313,333h4 M313,351h4 M321,305V326 M319,305h4 M319,326h4 M328,299V320 M326,299h4 M326,320h4 M334,294V315 M332,294h4 M332,315h4 M341,281V304 M339,281h4 M339,304h4 M347,288V310 M345,288h4 M345,310h4 M354,294V316 M352,294h4 M352,316h4 M360,277V299 M358,277h4 M358,299h4 M367,280V302 M365,280h4 M365,302h4 M373,251V275 M371,251h4 M371,275h4 M379,230V255 M377,230h4 M377,255h4 M386,273V296 M384,273h4 M384,296h4 M392,256V280 M390,256h4 M390,280h4 M399,258V282 M397,258h4 M397,282h4 M405,233V258 M403,233h4 M403,258h4 M412,206V233 M410,206h4 M410,233h4 M418,241V266 M416,241h4 M416,266h4 M425,231V256 M423,231h4 M423,256h4 M431,220V246 M429,220h4 M429,246h4 M438,229V254 M436,229h4 M436,254h4 M444,220V246 M442,220h4 M442,246h4 M451,210V237 M449,210h4 M449,237h4 M457,156V186 M455,156h4 M455,186h4 M464,144V175 M462,144h4 M462,175h4 M470,132V163 M468,132h4 M468,163h4 M476,127V158 M474,127h4 M474,158h4 M483,145V176 M481,145h4 M481,176h4 M489,114V147 M487,114h4 M487,147h4 M496,145V176 M494,145h4 M494,176h4 M502,200V227 M500,200h4 M500,227h4 M509,195V223 M507,195h4 M507,223h4 M515,206V233 M513,206h4 M513,233h4 M522,211V238 M520,211h4 M520,238h4 M528,179V208 M526,179h4 M526,208h4 M535,190V218 M533,190h4 M533,218h4 M541,184V213 M539,184h4 M539,213h4 M548,203V230 M546,203h4 M546,230h4 M554,171V200 M552,171h4 M552,200h4 M561,191V219 M559,191h4 M559,219h4 M567,188V216 M565,188h4 M565,216h4 M574,184V213 M572,184h4 M572,213h4 M580,202V229 M578,202h4 M578,229h4 M586,193V221 M584,193h4 M584,221h4 M593,200V227 M591,200h4 M591,227h4 M599,191V219 M597,191h4 M597,219h4 M606,183V212 M604,183h4 M604,212h4 M612,171V200 M610,171h4 M610,200h4 M619,166V196 M617,166h4 M617,196h4 M625,184V213 M623,184h4 M623,213h4 M632,169V198 M630,169h4 M630,198h4 M638,168V197 M636,168h4 M636,197h4 M645,148V179 M643,148h4 M643,179h4 M651,152V183 M649,152h4 M649,183h4 M658,130V161 M656,130h4 M656,161h4 M664,184V213 M662,184h4 M662,213h4 M671,148V179 M669,148h4 M669,179h4 M677,141V172 M675,141h4 M675,172h4 M684,156V186 M682,156h4 M682,186h4 M690,147V178 M688,147h4 M688,178h4 M696,142V173 M694,142h4 M694,173h4 M703,171V201 M701,171h4 M701,201h4 M709,128V159 M707,128h4 M707,159h4 M716,154V184 M714,154h4 M714,184h4 M722,154V184 M720,154h4 M720,184h4 M729,150V180 M727,150h4 M727,180h4 M735,147V178 M733,147h4 M733,178h4 M742,156V186 M740,156h4 M740,186h4 M748,150V181 M746,150h4 M746,181h4 M755,134V165 M753,134h4 M753,165h4" stroke="#000" stroke-width="2" fill="none" shape-rendering="crispEdges"/>
<g fill="#000"><circle cx="114.2" cy="439.0" r="4.2"/><circle cx="120.7" cy="439.0" r="4.2"/><circle cx="127.1" cy="438.6" r="4.2"/><circle cx="133.6" cy="439.0" r="4.2"/><circle cx="140.1" cy="438.8" r="4.2"/><circle cx="146.5" cy="438.6" r="4.2"/><circle cx="153.0" cy="437.9" r="4.2"/><circle cx="159.5" cy="437.0" r="4.2"/><circle cx="165.9" cy="426.8" r="4.2"/><circle cx="172.4" cy="421.1" r="4.2"/><circle cx="178.9" cy="426.8" r="4.2"/><circle cx="185.4" cy="414.1" r="4.2"/><circle cx="191.8" cy="387.2" r="4.2"/><circle cx="198.3" cy="394.9" r="4.2"/><circle cx="204.8" cy="411.0" r="4.2"/><circle cx="211.2" cy="418.8" r="4.2"/><circle cx="217.7" cy="408.1" r="4.2"/><circle cx="224.2" cy="398.1" r="4.2"/><circle cx="230.6" cy="398.1" r="4.2"/><circle cx="237.1" cy="391.4" r="4.2"/><circle cx="243.6" cy="391.8" r="4.2"/><circle cx="250.1" cy="380.1" r="4.2"/><circle cx="256.5" cy="380.7" r="4.2"/><circle cx="263.0" cy="378.0" r="4.2"/><circle cx="269.5" cy="372.3" r="4.2"/><circle cx="275.9" cy="367.9" r="4.2"/><circle cx="282.4" cy="352.1" r="4.2"/><circle cx="288.9" cy="359.1" r="4.2"/><circle cx="295.3" cy="361.6" r="4.2"/><circle cx="301.8" cy="343.3" r="4.2"/><circle cx="308.3" cy="340.8" r="4.2"/><circle cx="314.7" cy="342.7" r="4.2"/><circle cx="321.2" cy="315.9" r="4.2"/><circle cx="327.7" cy="309.9" r="4.2"/><circle cx="334.2" cy="305.1" r="4.2"/><circle cx="340.6" cy="293.1" r="4.2"/><circle cx="347.1" cy="299.8" r="4.2"/><circle cx="353.6" cy="305.7" r="4.2"/><circle cx="360.0" cy="288.7" r="4.2"/><circle cx="366.5" cy="291.9" r="4.2"/><circle cx="373.0" cy="263.9" r="4.2"/><circle cx="379.4" cy="243.0" r="4.2"/><circle cx="385.9" cy="284.9" r="4.2"/><circle cx="392.4" cy="269.0" r="4.2"/><circle cx="398.9" cy="270.2" r="4.2"/><circle cx="405.3" cy="245.9" r="4.2"/><circle cx="411.8" cy="220.4" r="4.2"/><circle cx="418.3" cy="254.1" r="4.2"/><circle cx="424.7" cy="244.0" r="4.2"/><circle cx="431.2" cy="233.3" r="4.2"/><circle cx="437.7" cy="242.1" r="4.2"/><circle cx="444.1" cy="233.9" r="4.2"/><circle cx="450.6" cy="224.1" r="4.2"/><circle cx="457.1" cy="171.9" r="4.2"/><circle cx="463.6" cy="160.3" r="4.2"/><circle cx="470.0" cy="148.3" r="4.2"/><circle cx="476.5" cy="143.2" r="4.2"/><circle cx="483.0" cy="161.1" r="4.2"/><circle cx="489.4" cy="131.2" r="4.2"/><circle cx="495.9" cy="161.1" r="4.2"/><circle cx="502.4" cy="214.1" r="4.2"/><circle cx="508.8" cy="209.3" r="4.2"/><circle cx="515.3" cy="220.4" r="4.2"/><circle cx="521.8" cy="225.2" r="4.2"/><circle cx="528.3" cy="193.9" r="4.2"/><circle cx="534.7" cy="204.9" r="4.2"/><circle cx="541.2" cy="198.9" r="4.2"/><circle cx="547.7" cy="216.9" r="4.2"/><circle cx="554.1" cy="185.9" r="4.2"/><circle cx="560.6" cy="205.6" r="4.2"/><circle cx="567.1" cy="202.7" r="4.2"/><circle cx="573.5" cy="199.2" r="4.2"/><circle cx="580.0" cy="216.0" r="4.2"/><circle cx="586.5" cy="207.9" r="4.2"/><circle cx="593.0" cy="214.1" r="4.2"/><circle cx="599.4" cy="205.3" r="4.2"/><circle cx="605.9" cy="197.9" r="4.2"/><circle cx="612.4" cy="186.1" r="4.2"/><circle cx="618.8" cy="181.8" r="4.2"/><circle cx="625.3" cy="199.1" r="4.2"/><circle cx="631.8" cy="184.0" r="4.2"/><circle cx="638.2" cy="183.4" r="4.2"/><circle cx="644.7" cy="164.0" r="4.2"/><circle cx="651.2" cy="168.0" r="4.2"/><circle cx="657.6" cy="145.9" r="4.2"/><circle cx="664.1" cy="199.1" r="4.2"/><circle cx="670.6" cy="164.1" r="4.2"/><circle cx="677.1" cy="157.2" r="4.2"/><circle cx="683.5" cy="171.2" r="4.2"/><circle cx="690.0" cy="163.2" r="4.2"/><circle cx="696.5" cy="158.3" r="4.2"/><circle cx="702.9" cy="186.5" r="4.2"/><circle cx="709.4" cy="144.0" r="4.2"/><circle cx="715.9" cy="169.3" r="4.2"/><circle cx="722.3" cy="169.3" r="4.2"/><circle cx="728.8" cy="165.5" r="4.2"/><circle cx="735.3" cy="163.0" r="4.2"/><circle cx="741.8" cy="171.8" r="4.2"/><circle cx="748.2" cy="166.1" r="4.2"/><circle cx="754.7" cy="150.4" r="4.2"/></g>
<!-- axis labels -->
<g class="lab"><text x="103.6" y="448.7" text-anchor="end">0</text><text x="103.6" y="406.5" text-anchor="end">50</text><text x="103.6" y="364.4" text-anchor="end">100</text><text x="103.6" y="322.2" text-anchor="end">150</text><text x="103.6" y="280.0" text-anchor="end">200</text><text x="103.6" y="237.9" text-anchor="end">250</text><text x="103.6" y="195.7" text-anchor="end">300</text><text x="103.6" y="153.5" text-anchor="end">350</text><text x="103.6" y="111.4" text-anchor="end">400</text><text x="103.6" y="69.2" text-anchor="end">450</text><text x="111.2" y="469.6" text-anchor="middle">0</text><text x="326.5" y="469.6" text-anchor="middle">200</text><text x="542" y="469.6" text-anchor="middle">400</text><text x="757.7" y="469.6" text-anchor="middle">600</text></g>
<text class="ttl" transform="translate(32.9,329.9) rotate(-90)" style="font-size:33.8px" textLength="304.7" lengthAdjust="spacing">Candidates / (6 MeV)</text>
<text class="ttl" x="760.0" y="504.7" text-anchor="end" style="font-size:33.8px;word-spacing:2.4px"><tspan class="it">Q</tspan> [MeV]</text>
<!-- legend -->
<rect x="148" y="58" width="28" height="34" rx="2" fill="#00ffff"/>
<rect x="148" y="103" width="28" height="34" rx="2" fill="#0000ff"/>
<rect x="148" y="148.5" width="28" height="34" rx="2" fill="#ff00ff"/>
<path d="M148.8,212.2H175" stroke="#000" stroke-width="1.9" stroke-dasharray="2.6 2.9" fill="none"/>
<g>
<text transform="translate(180.05,85.00) skewX(-13.0) scale(1.070,1)" font-size="29.90" stroke="#000" stroke-width="0.35">Σ</text><text transform="translate(199.85,74.71) scale(1.122,1)" font-size="20.50">−</text><text x="201.04" y="93.30" font-size="20.40" font-style="italic">b</text><text transform="translate(211.83,85.77) scale(1.571,1.700)" font-size="28.60">→</text><text transform="translate(256.71,85.00) skewX(-13.0) scale(1.000,1)" font-size="29.30" stroke="#000" stroke-width="0.35">Λ</text><text x="276.52" y="72.10" font-size="20.40">0</text><text x="277.44" y="93.90" font-size="20.40" font-style="italic">b</text><text transform="translate(288.94,85.00) skewX(-13.0) scale(0.860,1)" font-size="31.00" stroke="#000" stroke-width="0.7">π</text><text transform="translate(302.20,76.81) scale(1.364,1)" font-size="20.50">−</text><text transform="translate(180.05,130.80) skewX(-13.0) scale(1.070,1)" font-size="29.90" stroke="#000" stroke-width="0.35">Σ</text><text x="201.20" y="114.60" font-size="20.40">*</text><text transform="translate(209.27,115.71) scale(1.101,1)" font-size="20.50">−</text><text x="201.14" y="139.10" font-size="20.40" font-style="italic">b</text><text transform="translate(220.93,131.67) scale(1.571,1.700)" font-size="28.60">→</text><text transform="translate(265.91,130.80) skewX(-13.0) scale(1.000,1)" font-size="29.30" stroke="#000" stroke-width="0.35">Λ</text><text x="285.72" y="117.90" font-size="20.40">0</text><text x="286.64" y="139.70" font-size="20.40" font-style="italic">b</text><text transform="translate(298.14,130.80) skewX(-13.0) scale(0.860,1)" font-size="31.00" stroke="#000" stroke-width="0.7">π</text><text transform="translate(311.40,122.61) scale(1.364,1)" font-size="20.50">−</text><text transform="translate(180.55,177.00) skewX(-13.0) scale(1.070,1)" font-size="29.90" stroke="#000" stroke-width="0.35">Σ</text><text x="201.44" y="184.90" font-size="20.40" font-style="italic">b</text><text x="210.62" y="177.00" font-size="29.10">(6097)</text><text transform="translate(287.04,166.91) scale(1.039,1)" font-size="20.50">−</text><text transform="translate(297.73,177.87) scale(1.571,1.700)" font-size="28.60">→</text><text transform="translate(343.71,177.00) skewX(-13.0) scale(1.000,1)" font-size="29.30" stroke="#000" stroke-width="0.35">Λ</text><text x="363.52" y="164.10" font-size="20.40">0</text><text x="364.44" y="185.90" font-size="20.40" font-style="italic">b</text><text transform="translate(375.94,177.00) skewX(-13.0) scale(0.860,1)" font-size="31.00" stroke="#000" stroke-width="0.7">π</text><text transform="translate(389.20,168.81) scale(1.364,1)" font-size="20.50">−</text><text x="182.18" y="222.00" font-size="28.50">Background</text>
</g>
<!-- plot title -->
<g>
<text x="638.2" y="71.7" font-size="29.2" font-weight="bold" text-anchor="middle" textLength="84.6" lengthAdjust="spacingAndGlyphs">LHCb</text><text x="579.92" y="109.50" font-size="29.20" font-weight="bold" letter-spacing="1.2">(c)</text><text transform="translate(630.21,109.90) skewX(-13.0) scale(0.920,1)" font-size="32.40" stroke="#000" stroke-width="0.7">Λ</text><text x="650.78" y="96.00" font-size="21.50" font-weight="bold">0</text><text x="653.13" y="118.80" font-size="20.40" font-weight="bold" font-style="italic">b</text><text transform="translate(664.68,110.00) skewX(-13.0) scale(0.920,1)" font-size="33.00" stroke="#000" stroke-width="0.7">π</text><text transform="translate(683.02,101.81) scale(1.154,1)" font-size="20.50">−</text>
</g>
</svg>
</body></html>
